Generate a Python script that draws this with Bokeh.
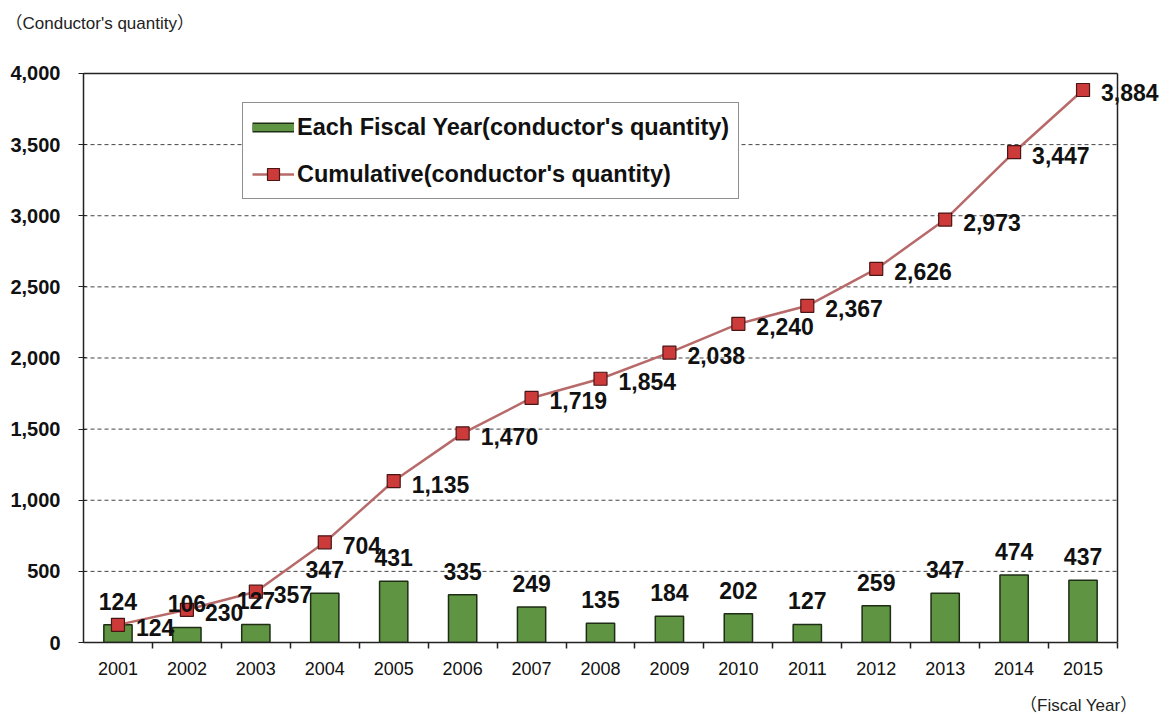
from bokeh.plotting import figure
from bokeh.models import (ColumnDataSource, FixedTicker, Range1d, Legend, LegendItem,
                          LabelSet, Title, NumeralTickFormatter)
from bokeh.core.properties import value
from bokeh.embed import file_html
from bokeh.resources import INLINE

years = [2001, 2002, 2003, 2004, 2005, 2006, 2007, 2008, 2009, 2010, 2011, 2012, 2013, 2014, 2015]
annual = [124, 106, 127, 347, 431, 335, 249, 135, 184, 202, 127, 259, 347, 474, 437]
cumulative = [124, 230, 357, 704, 1135, 1470, 1719, 1854, 2038, 2240, 2367, 2626, 2973, 3447, 3884]
y_ticks = [0, 500, 1000, 1500, 2000, 2500, 3000, 3500, 4000]
bar_name = "Each Fiscal Year(conductor's quantity)"
line_name = "Cumulative(conductor's quantity)"
y_title = "（Conductor's quantity）"
x_title = "（Fiscal Year）"

FONT = "'Liberation Sans', Arial, 'Noto Sans CJK JP', sans-serif"
GREEN = "#5f9443"
GREEN_EDGE = "#1e2d14"
RED = "#cc3a3a"
RED_EDGE = "#4a1515"
LINE = "#b86a6a"
INK = "#222222"

x_lo, x_hi = years[0] - 0.5, years[-1] + 0.5
y_lo, y_hi = y_ticks[0], y_ticks[-1]

src = ColumnDataSource(dict(
    x=years, annual=annual, cum=cumulative,
    annual_lbl=[f"{v:,}" for v in annual],
    cum_lbl=[f"{v:,}" for v in cumulative],
))
# source for legend-only swatch renderers (nothing drawn in the plot)
blank = ColumnDataSource(dict(x=years, y=[float("nan")] * len(years)))

# frame extends to the right canvas edge so that the last label is not clipped;
# the visible plot box (x_lo..x_hi, 0..4000) is drawn by hand
p = figure(width=1167, height=717, output_backend="svg", toolbar_location=None,
           x_range=Range1d(x_lo, x_hi + 0.7253),
           y_range=Range1d(y_lo, y_hi + 14),
           min_border_left=83, min_border_right=0, min_border_top=71, min_border_bottom=75)

p.background_fill_color = "white"
p.border_fill_color = "white"
p.outline_line_color = None
p.xgrid.visible = False
p.ygrid.visible = False

# dashed horizontal gridlines and the box
grid_y = y_ticks[1:-1]
p.segment(x0=[x_lo] * len(grid_y), x1=[x_hi] * len(grid_y), y0=grid_y, y1=grid_y,
          line_color="#444444", line_dash="4 3", line_width=1)
p.segment(x0=[x_lo, x_hi], x1=[x_hi, x_hi], y0=[y_hi, y_lo], y1=[y_hi, y_hi],
          line_color=INK, line_width=1.5)

# y axis
p.yaxis.ticker = FixedTicker(ticks=y_ticks)
p.yaxis.bounds = (y_lo, y_hi)
p.yaxis.formatter = NumeralTickFormatter(format="0,0")
p.yaxis.major_label_text_font = FONT
p.yaxis.major_label_text_font_style = "bold"
p.yaxis.major_label_text_font_size = "20px"
p.yaxis.major_label_text_color = "#111111"
p.yaxis.major_tick_out = 5
p.yaxis.major_tick_in = 3
p.yaxis.minor_tick_out = 0
p.yaxis.minor_tick_in = 0
p.yaxis.major_label_standoff = 18
p.yaxis.axis_line_width = 1.5
p.yaxis.axis_line_color = INK
p.yaxis.major_tick_line_color = INK

# x axis: labels at centers, tick marks at category boundaries
bounds = [y + 0.5 for y in years]
p.xaxis.ticker = FixedTicker(ticks=years, minor_ticks=bounds)
p.xaxis.bounds = (x_lo, x_hi)
p.xaxis.major_label_overrides = {y: str(y) for y in years}
p.xaxis.major_label_text_font = FONT
p.xaxis.major_label_text_font_size = "18px"
p.xaxis.major_label_text_color = "#111111"
p.xaxis.major_tick_out = 0
p.xaxis.major_tick_in = 0
p.xaxis.minor_tick_out = 6
p.xaxis.minor_tick_in = 0
p.xaxis.minor_tick_line_color = INK
p.xaxis.minor_tick_line_width = 1.5
p.xaxis.major_label_standoff = 13
p.xaxis.axis_line_width = 1.5
p.xaxis.axis_line_color = INK

bars = p.vbar(x="x", top="annual", width=0.41, source=src,
              fill_color=GREEN, line_color=GREEN_EDGE, line_width=1.5)
line = p.line(x="x", y="cum", source=src, line_color=LINE, line_width=2.5)
pts = p.scatter(x="x", y="cum", source=src, marker="square", size=13,
                fill_color=RED, line_color=RED_EDGE, line_width=1.2)

p.add_layout(LabelSet(x="x", y="annual", text="annual_lbl", source=src,
                      text_font=value(FONT), text_font_style="bold", text_font_size="23px",
                      text_color="#111111", text_align="center",
                      text_baseline="alphabetic", y_offset=15))
p.add_layout(LabelSet(x="x", y="cum", text="cum_lbl", source=src,
                      text_font=value(FONT), text_font_style="bold", text_font_size="23px",
                      text_color="#111111", text_align="left", text_baseline="middle",
                      x_offset=18, y_offset=-3))

# legend swatch for the bars: outlined green strip
leg_edge = p.line(x="x", y="y", source=blank, line_color=GREEN_EDGE, line_width=10)
leg_fill = p.line(x="x", y="y", source=blank, line_color=GREEN, line_width=7)

legend = Legend(items=[
    LegendItem(label=bar_name, renderers=[leg_edge, leg_fill]),
    LegendItem(label=line_name, renderers=[line, pts]),
], location=(159, 443))
legend.label_text_font = FONT
legend.label_text_font_style = "bold"
legend.label_text_font_size = "23.5px"
legend.label_text_color = "#111111"
legend.glyph_width = 42
legend.glyph_height = 30
legend.label_height = 30
legend.spacing = 17
legend.padding = 9
legend.margin = 0
legend.label_standoff = 3
legend.border_line_color = INK
legend.border_line_width = 1.5
legend.background_fill_alpha = 1
p.add_layout(legend, "center")

# titles (spacers keep them away from the axes)
p.add_layout(Title(text=" ", text_font_size="1px", standoff=36), "above")
p.add_layout(Title(text=y_title, align="left", offset=-78, standoff=0,
                   text_font=FONT, text_font_size="17px", text_font_style="normal",
                   text_color=INK), "above")
p.add_layout(Title(text=" ", text_font_size="1px", standoff=13), "below")
p.add_layout(Title(text=x_title, align="right", offset=30, standoff=0,
                   text_font=FONT, text_font_size="17px", text_font_style="normal",
                   text_color=INK), "below")

open("out.html", "w").write(file_html(p, INLINE))
